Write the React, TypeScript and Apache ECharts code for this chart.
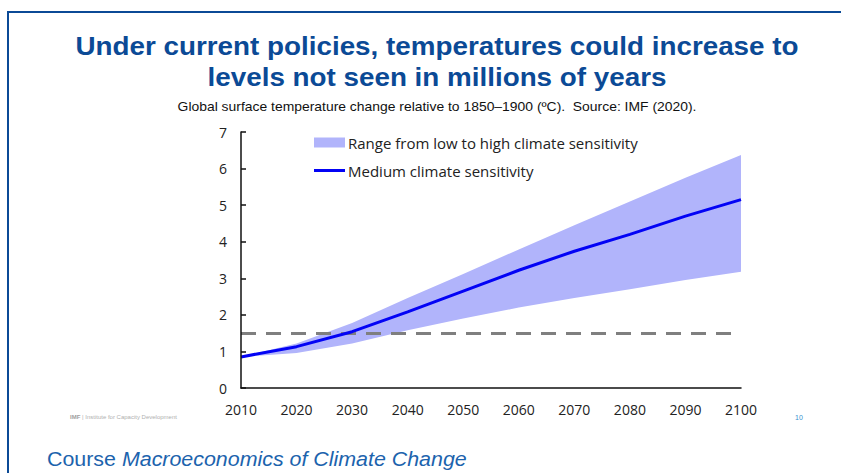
import React, { useEffect, useRef } from "react";
import * as echarts from "echarts";

const years = [2010, 2020, 2030, 2040, 2050, 2060, 2070, 2080, 2090, 2100];
const medium = [0.85, 1.13, 1.54, 2.08, 2.65, 3.22, 3.74, 4.2, 4.7, 5.15];
const upper = [0.85, 1.22, 1.78, 2.46, 3.12, 3.79, 4.45, 5.1, 5.75, 6.37];
const lower = [0.85, 0.96, 1.22, 1.58, 1.9, 2.2, 2.46, 2.7, 2.95, 3.18];
const threshold = 1.5;

const titleLines = [
  "Under current policies, temperatures could increase to",
  "levels not seen in millions of years",
];
const subtitle = "Global surface temperature change relative to 1850\u20131900 (\u00baC).  Source: IMF (2020).";
const rangeName = "Range from low to high climate sensitivity";
const mediumName = "Medium climate sensitivity";

const BAND = "#b1b4fb";
const LINE = "#0303f5";
const NAVY = "#0b4a96";
const SX = 1.07;

export default function App() {
  const ref = useRef<HTMLDivElement>(null);
  useEffect(() => {
    if (!ref.current) return;
    const chart = echarts.init(ref.current, null, { renderer: "svg" });
    const bandData = years.map((y, i) => [y, lower[i], upper[i]]);
    const option: any = {
      animation: false,
      backgroundColor: "#ffffff",
      grid: { left: 241, right: 100, top: 132, bottom: 85, containLabel: false },
      xAxis: {
        type: "value",
        min: 2010,
        max: 2100,
        interval: 10,
        z: 10,
        axisLine: { show: true, lineStyle: { color: "#111", width: 1.5 } },
        axisTick: { show: false },
        splitLine: { show: false },
        axisLabel: {
          margin: 14,
          fontSize: 14,
          color: "#222",
          fontFamily: "Open Sans",
          formatter: (v: number) => String(v),
        },
      },
      yAxis: {
        type: "value",
        min: 0,
        max: 7,
        interval: 1,
        z: 10,
        axisLine: { show: true, lineStyle: { color: "#111", width: 1.5 } },
        axisTick: { show: true, inside: true, length: 5, lineStyle: { color: "#111", width: 1.5 } },
        splitLine: { show: false },
        axisLabel: { margin: 14, fontSize: 14, color: "#222", fontFamily: "Open Sans" },
      },
      legend: {
        orient: "vertical",
        left: 314,
        top: 135,
        padding: 0,
        itemWidth: 31,
        itemHeight: 10,
        itemGap: 13,
        symbolKeepAspect: true,
        textStyle: { fontSize: 15, color: "#222", fontFamily: "Open Sans", padding: [0, 0, 0, -2] },
        data: [
          { name: rangeName, icon: "rect", itemStyle: { color: BAND } },
          { name: mediumName, icon: "path://M0,0H31V3H0Z", itemStyle: { color: LINE } },
        ],
      },
      series: [
        {
          name: rangeName,
          type: "custom",
          data: bandData,
          color: BAND,
          itemStyle: { color: BAND },
          z: 1,
          renderItem: (params: any, api: any) => {
            if (params.dataIndex !== 0) return null;
            const top = bandData.map((d) => api.coord([d[0], d[2]]));
            const bottom = bandData.map((d) => api.coord([d[0], d[1]])).reverse();
            return {
              type: "polygon",
              shape: { points: top.concat(bottom) },
              style: { fill: BAND, stroke: "none" },
            };
          },
        },
        {
          name: mediumName,
          type: "line",
          data: years.map((y, i) => [y, medium[i]]),
          symbol: "none",
          showSymbol: false,
          color: LINE,
          lineStyle: { color: LINE, width: 3 },
          z: 5,
          markLine: {
            silent: true,
            symbol: "none",
            label: { show: false },
            lineStyle: { color: "#7f7f7f", width: 3, type: [15, 10] },
            data: [{ yAxis: threshold }],
          },
        },
      ],
      graphic: [
        { type: "rect", shape: { x: 7, y: 11, width: 834, height: 2 }, style: { fill: NAVY } },
        { type: "rect", shape: { x: 7, y: 11, width: 2, height: 462 }, style: { fill: NAVY } },
        {
          type: "text",
          x: 437,
          y: 46,
          scaleX: SX,
          style: {
            text: titleLines[0],
            font: "bold 26px 'Liberation Sans', Arial, sans-serif",
            fill: NAVY,
            textAlign: "center",
            textVerticalAlign: "middle",
          },
        },
        {
          type: "text",
          x: 437,
          y: 77,
          scaleX: SX,
          style: {
            text: titleLines[1],
            font: "bold 26px 'Liberation Sans', Arial, sans-serif",
            fill: NAVY,
            textAlign: "center",
            textVerticalAlign: "middle",
          },
        },
        {
          type: "text",
          x: 437,
          y: 107,
          scaleX: SX,
          style: {
            text: subtitle,
            font: "13px 'Liberation Sans', Arial, sans-serif",
            fill: "#111",
            textAlign: "center",
            textVerticalAlign: "middle",
          },
        },
        {
          type: "text",
          x: 70,
          y: 417,
          style: {
            text: "{b|IMF} | Institute for Capacity Development",
            font: "6px 'Liberation Sans', Arial, sans-serif",
            fill: "#b0b0b0",
            textVerticalAlign: "middle",
            rich: { b: { fontWeight: "bold", fontSize: 6, fill: "#a0a0a0" } },
          },
        },
        {
          type: "text",
          x: 799,
          y: 417,
          style: {
            text: "10",
            font: "7px 'Liberation Sans', Arial, sans-serif",
            fill: "#3a8fd0",
            textAlign: "center",
            textVerticalAlign: "middle",
          },
        },
        {
          type: "text",
          x: 47,
          y: 459,
          scaleX: SX,
          style: {
            text: "Course {i|Macroeconomics of Climate Change}",
            font: "20px 'Liberation Sans', Arial, sans-serif",
            fill: "#1c63ad",
            textVerticalAlign: "middle",
            rich: {
              i: { fontStyle: "italic", fontSize: 20, fontFamily: "'Liberation Sans', Arial, sans-serif", fill: "#1c63ad" },
            },
          },
        },
      ],
    };
    chart.setOption(option);
    return () => chart.dispose();
  }, []);
  return (
    <div
      ref={ref}
      style={{ position: "fixed", left: 0, top: 0, width: 841, height: 473, background: "#fff" }}
    />
  );
}
